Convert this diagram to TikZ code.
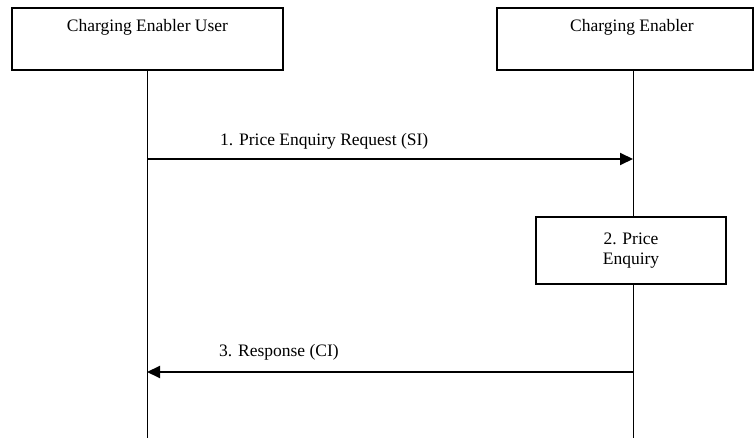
\documentclass[tikz,border=0pt]{standalone}
\usepackage{fontspec}
\setmainfont{Liberation Serif}
\usetikzlibrary{arrows.meta}
\begin{document}
\begin{tikzpicture}[x=1pt,y=-1pt,
  every node/.style={font=\fontsize{17.5}{20}\selectfont},
  actorbox/.style={draw,line width=1.2pt,minimum width=271pt,minimum height=62pt,inner sep=0pt},
  actortext/.style={anchor=center},
  procbox/.style={draw,line width=1.2pt,minimum width=190pt,minimum height=67pt,align=center,inner sep=0pt},
  lifeline/.style={draw,line width=1pt},
  msg/.style={draw,line width=2pt,-{Triangle[length=13pt,width=12pt]}},
  msglabel/.style={anchor=west,inner sep=0pt}]
\useasboundingbox (0,0) rectangle (756,438);
% actor boxes
\node[actorbox] (user) at (147.5,39) {};
\node[actortext] (usert) at (147.5,27) {Charging Enabler User};
\node[actorbox,minimum width=256pt] (ce) at (625,39) {};
\node[actortext] (cet) at (632,27) {Charging Enabler};
% process box
\node[procbox] (proc) at (631,250.5) {2. Price\\Enquiry};
% lifeline coordinates
\coordinate (uend) at (147,438);
\coordinate (ceend) at (633,438);
\coordinate (ceb) at (633,70);
\coordinate (pt) at (633,217);
\coordinate (pb) at (633,284);
\coordinate (ub) at (147,70);
\draw[lifeline] (ub) -- (uend);
\draw[lifeline] (ceb) -- (pt);
\draw[lifeline] (pb) -- (ceend);
% messages
\coordinate (m1s) at (147,159);
\coordinate (m1e) at (633,159);
\coordinate (m3s) at (634,372);
\coordinate (m3e) at (147,372);
\draw[msg] (m1s) -- (m1e);
\draw[msg] (m3s) -- (m3e);
\node[msglabel] (l1) at (220,141) {1. Price Enquiry Request (SI)};
\node[msglabel] (l3) at (219,352) {3. Response (CI)};
\end{tikzpicture}
\end{document}
